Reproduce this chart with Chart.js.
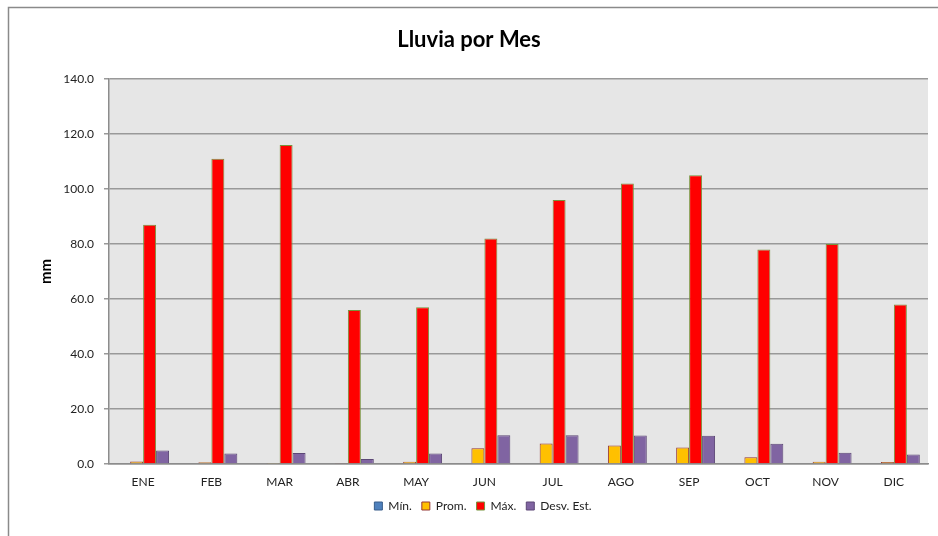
<!DOCTYPE html>
<html>
<head>
<meta charset="utf-8">
<script src="https://cdn.jsdelivr.net/npm/chart.js@4"></script>
<style>
  html, body { margin: 0; padding: 0; background: #fff; }
  #wrap { width: 938px; height: 536px; }
</style>
</head>
<body>
<div id="wrap"><canvas id="rainChart" width="938" height="536"></canvas></div>
<script>
// Datos
const months = ['ENE', 'FEB', 'MAR', 'ABR', 'MAY', 'JUN', 'JUL', 'AGO', 'SEP', 'OCT', 'NOV', 'DIC'];
const minVals = [0, 0, 0, 0, 0, 0, 0, 0, 0, 0, 0, 0];
const promVals = [0.9, 0.6, 0.4, 0.2, 0.8, 5.7, 7.5, 6.7, 6.0, 2.5, 0.8, 0.7];
const maxVals = [87, 111, 116, 56, 57, 82, 96, 102, 105, 78, 80, 58];
const desvVals = [4.9, 3.8, 4.0, 1.8, 3.8, 10.5, 10.5, 10.4, 10.3, 7.4, 4.1, 3.5];
const yMin = 0, yMax = 140, yStep = 20;

// fondo gris del area y marco exterior
const backdrop = {
    id: 'backdrop',
    afterLayout(chart) {
        // la leyenda del original esta un poco a la derecha
        chart.legend.left += 14;
        chart.legend.right += 14;
    },
    beforeDraw(chart) {
        const { ctx, chartArea: a } = chart;
        ctx.save();
        ctx.fillStyle = '#e6e6e6';
        ctx.fillRect(a.left, a.top, a.right - a.left, a.bottom - a.top);
        ctx.strokeStyle = '#8a8a8a';
        ctx.lineWidth = 1.5;
        ctx.strokeRect(8.5, 7.5, 960, 560);
        ctx.restore();
    }
};

const font = 'Lato, "Open Sans", sans-serif';

new Chart(document.getElementById('rainChart').getContext('2d'), {
    type: 'bar',
    data: {
        labels: months,
        datasets: [
            { label: 'Mín.', data: minVals, backgroundColor: '#4f81bd', borderColor: '#385d8a', borderWidth: 1 },
            { label: 'Prom.', data: promVals, backgroundColor: '#ffc000', borderColor: '#943634', borderWidth: 1 },
            { label: 'Máx.', data: maxVals, backgroundColor: '#ff0000', borderColor: '#77933c', borderWidth: 1 },
            { label: 'Desv. Est.', data: desvVals, backgroundColor: '#8064a2', borderColor: '#5c4776', borderWidth: 1 }
        ]
    },
    options: {
        responsive: false,
        animation: false,
        layout: { padding: { left: 10, right: 10, top: 0, bottom: 14 } },
        datasets: { bar: { categoryPercentage: 0.76, barPercentage: 1.0 } },
        plugins: {
            title: {
                display: true,
                text: 'Lluvia por Mes',
                color: '#000',
                font: { family: font, size: 22, weight: 'bold' },
                padding: { top: 27, bottom: 25.6 }
            },
            legend: {
                position: 'bottom',
                labels: {
                    color: '#222',
                    font: { family: font, size: 12 },
                    boxWidth: 8,
                    boxHeight: 8,
                    padding: 10
                }
            },
            tooltip: { enabled: false }
        },
        scales: {
            x: {
                grid: { display: false, drawTicks: false },
                border: { color: '#8c8c8c', width: 1.5 },
                afterFit: s => { s.height = 26; },
                ticks: { color: '#222', font: { family: font, size: 12 }, padding: 11 }
            },
            y: {
                min: yMin,
                max: yMax,
                afterFit: s => { s.width = 99; },
                ticks: {
                    stepSize: yStep,
                    color: '#222',
                    font: { family: font, size: 12 },
                    padding: 10,
                    callback: v => v.toFixed(1)
                },
                grid: { color: '#999', lineWidth: 1.5, tickLength: 5 },
                border: { color: '#8c8c8c', width: 1.5 },
                title: {
                    display: true,
                    text: 'mm',
                    color: '#000',
                    font: { family: font, size: 15, weight: 'bold' },
                    padding: { top: 27, bottom: 0 }
                }
            }
        }
    },
    plugins: [backdrop]
});
</script>
</body>
</html>
